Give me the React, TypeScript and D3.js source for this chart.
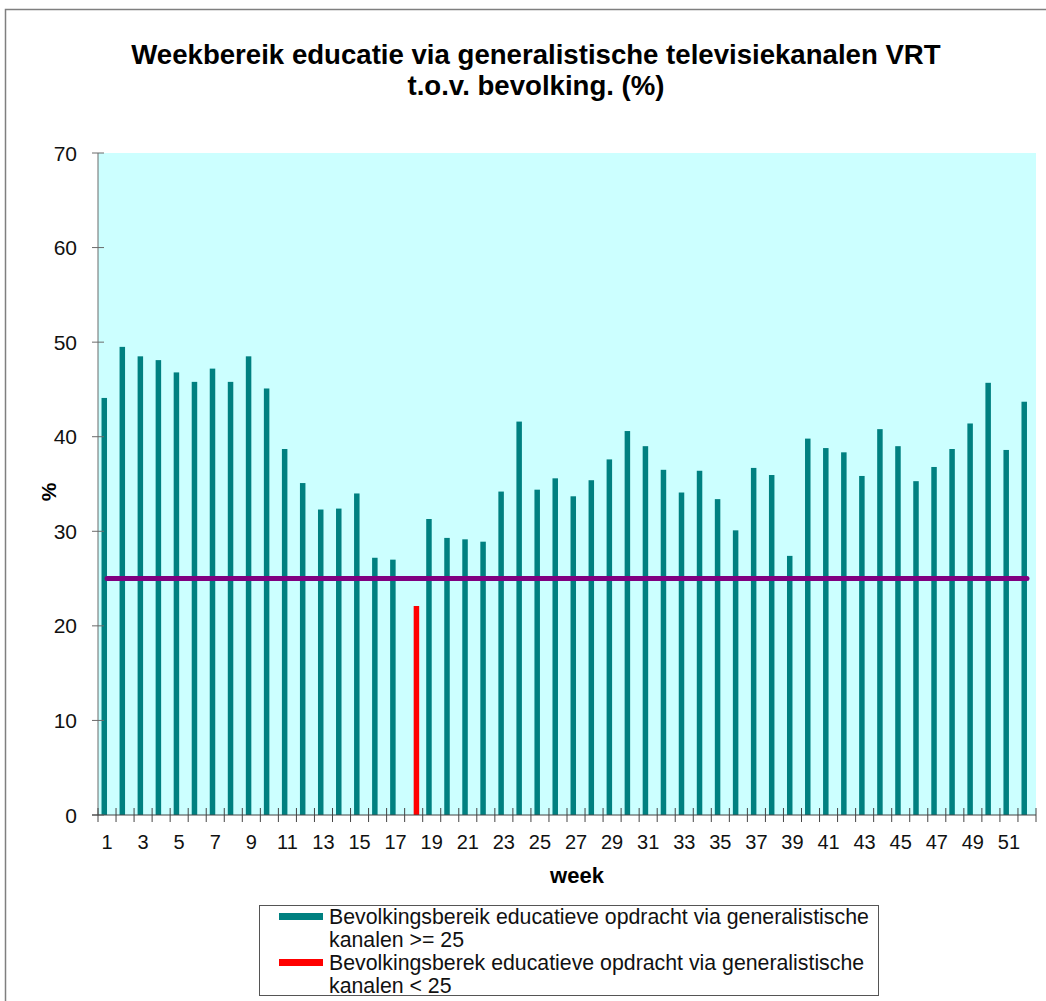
import React from "react";
import * as d3 from "d3";

const weeks: number[] = Array.from({ length: 52 }, (_, i) => i + 1);
const reach: number[] = [
  44.1, 49.5, 48.5, 48.1, 46.8, 45.8, 47.2, 45.8, 48.5, 45.1,
  38.7, 35.1, 32.3, 32.4, 34.0, 27.2, 27.0, 22.1, 31.3, 29.3,
  29.15, 28.9, 34.2, 41.6, 34.4, 35.6, 33.7, 35.4, 37.6, 40.6,
  39.0, 36.5, 34.1, 36.4, 33.4, 30.1, 36.7, 35.95, 27.4, 39.8,
  38.8, 38.35, 35.85, 40.8, 39.0, 35.3, 36.8, 38.7, 41.4, 45.7,
  38.6, 43.7,
];
const threshold = 25;
const yTicks: number[] = [0, 10, 20, 30, 40, 50, 60, 70];
const seriesKeys: string[] = ["ge25", "lt25"];
const seriesColors: Record<string, string> = { ge25: "#008080", lt25: "#FF0000" };
const legendLines: string[][] = [
  ["Bevolkingsbereik educatieve opdracht via generalistische", "kanalen >= 25"],
  ["Bevolkingsberek educatieve opdracht via generalistische", "kanalen < 25"],
];
const titleLines: string[] = [
  "Weekbereik educatie via generalistische televisiekanalen VRT",
  "t.o.v. bevolking. (%)",
];

const W = 1046;
const H = 1001;
const plot = { left: 98, right: 1036, top: 153, bottom: 815 };
const font = "'Liberation Sans', Arial, sans-serif";

export default function App() {
  const x = d3.scaleBand<number>().domain(weeks).range([plot.left, plot.right]).padding(0);
  const y = d3.scaleLinear().domain([0, 70]).range([plot.bottom, plot.top]);
  const bw = x.bandwidth();
  const barW = 5.5;
  const x1 = d3.scaleBand<string>().domain(seriesKeys).range([bw / 2 - barW, bw / 2 + barW]).padding(0);
  const line = d3
    .line<number>()
    .x((w) => (x(w) as number) + bw / 2)
    .y(() => y(threshold));

  const xTickPositions = weeks.map((w) => x(w) as number).concat([plot.right]);

  return (
    <svg
      width={W}
      height={H}
      style={{ position: "absolute", left: 0, top: 0, background: "#fff" }}
      fontFamily={font}
    >
      <rect x={0} y={0} width={W} height={H} fill="#fff" />
      {/* outer frame */}
      <rect x={5.5} y={9.5} width={W + 20} height={H + 20} fill="none" stroke="#7f7f7f" strokeWidth={1.5} />

      {/* title */}
      {titleLines.map((t, i) => (
        <text key={i} x={536} y={64 + i * 31} textAnchor="middle" fontSize={27.6} fontWeight="bold" fill="#000">
          {t}
        </text>
      ))}

      {/* plot area */}
      <rect
        x={plot.left}
        y={plot.top}
        width={plot.right - plot.left}
        height={plot.bottom - plot.top}
        fill="#CCFFFF"
      />

      {/* bars */}
      {weeks.map((w, i) => {
        const v = reach[i];
        const key = v >= threshold ? "ge25" : "lt25";
        const bx = (x(w) as number) + (x1(key) as number);
        return (
          <rect
            key={w}
            x={bx}
            y={y(v)}
            width={x1.bandwidth()}
            height={y(0) - y(v)}
            fill={seriesColors[key]}
          />
        );
      })}

      {/* threshold line */}
      <path d={line(weeks) || ""} fill="none" stroke="#800080" strokeWidth={5} strokeLinecap="round" />

      {/* y axis */}
      <line x1={plot.left} x2={plot.left} y1={plot.top} y2={plot.bottom} stroke="#6a6a6a" strokeWidth={1} />
      {yTicks.map((t) => (
        <g key={t}>
          <line x1={plot.left - 6} x2={plot.left + 6} y1={y(t)} y2={y(t)} stroke="#6a6a6a" strokeWidth={1} />
          <text x={77} y={y(t) + 7.5} textAnchor="end" fontSize={21} fill="#111">
            {t}
          </text>
        </g>
      ))}
      <text
        transform={`translate(56,492) rotate(-90)`}
        textAnchor="middle"
        fontSize={21}
        fontWeight="bold"
        fill="#000"
      >
        %
      </text>

      {/* x axis */}
      <line x1={plot.left - 6} x2={plot.right} y1={plot.bottom} y2={plot.bottom} stroke="#444" strokeWidth={1.2} />
      {xTickPositions.map((p, i) => (
        <line key={i} x1={p} x2={p} y1={plot.bottom - 7} y2={plot.bottom + 7} stroke="#444" strokeWidth={1} />
      ))}
      {weeks
        .filter((w) => w % 2 === 1)
        .map((w) => (
          <text key={w} x={(x(w) as number) + bw / 2} y={849} textAnchor="middle" fontSize={20} fill="#111">
            {w}
          </text>
        ))}
      <text x={577} y={883} textAnchor="middle" fontSize={22} fontWeight="bold" fill="#000">
        week
      </text>

      {/* legend */}
      <rect x={259.5} y={905.5} width={619} height={90} fill="#fff" stroke="#555" strokeWidth={1} />
      {seriesKeys.map((k, i) => (
        <g key={k}>
          <rect x={279} y={913 + i * 46} width={44} height={7} fill={seriesColors[k]} />
          {legendLines[i].map((t, j) => (
            <text key={j} x={329} y={924 + i * 46 + j * 23} fontSize={21.3} fill="#111">
              {t}
            </text>
          ))}
        </g>
      ))}
    </svg>
  );
}
